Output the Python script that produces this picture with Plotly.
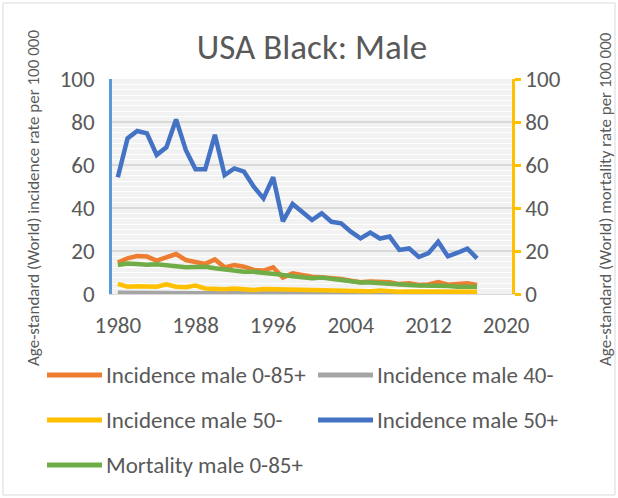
import plotly.graph_objects as go

years = list(range(1980, 2018))

inc_0_85 = [14.6, 16.6, 17.7, 17.4, 15.5, 17.1, 18.6, 15.8, 14.7, 14.0,
            16.1, 12.4, 13.5, 12.7, 11.2, 10.9, 12.4, 7.6, 9.6, 8.8,
            8.0, 7.8, 7.5, 7.0, 6.2, 5.5, 5.8, 5.5, 5.5, 4.6,
            5.0, 4.2, 4.4, 5.6, 4.3, 4.6, 5.0, 4.2]
inc_40 = [0.6, 0.5, 0.5, 0.5, 0.5, 0.5, 0.5, 0.4, 0.4, 0.5,
          0.4, 0.4, 0.4, 0.4, 0.4, 0.3, 0.4, 0.3, 0.3, 0.3,
          0.3, 0.3, 0.3, 0.3, 0.3, 0.2, 0.3, 0.2, 0.2, 0.2,
          0.2, 0.2, 0.2, 0.2, 0.2, 0.2, 0.2, 0.2]
inc_50_minus = [4.7, 3.4, 3.6, 3.6, 3.4, 4.5, 3.4, 3.1, 3.9, 2.6,
                2.3, 2.2, 2.6, 2.2, 1.9, 2.3, 2.2, 1.9, 1.6, 1.6,
                1.5, 1.4, 1.5, 1.3, 1.3, 1.2, 1.3, 1.6, 1.2, 1.1,
                1.2, 1.1, 1.1, 1.2, 1.0, 1.1, 1.0, 1.0]
inc_50_plus = [54.3, 72.4, 75.8, 74.7, 64.7, 68.2, 81.2, 67.0, 58.0, 58.0,
               74.0, 55.3, 58.4, 56.9, 49.9, 44.5, 54.3, 33.8, 41.9, 38.3,
               34.4, 37.5, 33.6, 32.9, 29.0, 25.9, 28.6, 25.8, 26.7, 20.5,
               21.2, 17.2, 19.0, 24.3, 17.5, 19.2, 21.1, 16.6]
mort_0_85 = [13.5, 14.2, 14.0, 13.6, 13.8, 13.3, 13.3, 12.5, 12.6, 12.7,
             12.0, 11.4, 11.1, 10.4, 10.3, 10.0, 9.5, 8.9, 8.3, 7.8,
             7.3, 7.7, 7.0, 6.5, 5.7, 5.4, 5.3, 4.9, 4.6, 4.2,
             4.2, 3.9, 4.0, 3.9, 3.7, 3.4, 3.4, 3.4]

names = ["Incidence male 0-85+", "Incidence male 40-", "Incidence male 50-",
         "Incidence male 50+", "Mortality male 0-85+"]
colors = ["#ED7D31", "#A5A5A5", "#FFC000", "#4472C4", "#70AD47"]
x_ticks = [1980, 1988, 1996, 2004, 2012, 2020]
y_ticks = [0, 20, 40, 60, 80, 100]

FONT = "Calibri, Carlito, Lato, sans-serif"
GREY_TXT = "#595959"

# plot area in pixels
L, R, T, B = 112, 512, 79, 294


def px(x):
    return (x - L) / (R - L)


def py(y):
    return (B - y) / (B - T)


fig = go.Figure()
series = [inc_0_85, inc_40, inc_50_minus, inc_50_plus]
for vals, name, col in zip(series, names[:4], colors[:4]):
    fig.add_trace(go.Scatter(x=years, y=vals, name=name, mode="lines",
                             line=dict(color=col, width=4.5), showlegend=False))
fig.add_trace(go.Scatter(x=years, y=mort_0_85, name=names[4], mode="lines",
                         line=dict(color=colors[4], width=4.5), yaxis="y2",
                         showlegend=False))

# legend drawn by hand (longer line symbols like the original)
rows = [375, 375, 420, 420, 465]
cols = [47, 318, 47, 318, 47]
shapes = []
annotations = []
for name, col, ry, cx in zip(names, colors, rows, cols):
    shapes.append(dict(type="line", xref="paper", yref="paper",
                       x0=px(cx), x1=px(cx + 55), y0=py(ry), y1=py(ry),
                       line=dict(color=col, width=5)))
    annotations.append(dict(text=name, xref="paper", yref="paper",
                            x=px(cx + 57), y=py(ry), xanchor="left",
                            yanchor="middle", showarrow=False,
                            font=dict(size=23, color=GREY_TXT, family=FONT)))

annotations.append(dict(text="Age-standard (World) incidence rate per 100 000",
                        xref="paper", yref="paper", x=px(33), y=py(198),
                        textangle=-90, showarrow=False,
                        xanchor="center", yanchor="middle",
                        font=dict(size=17, color=GREY_TXT, family=FONT)))
annotations.append(dict(text="Age-standard (World) mortality rate per 100 000",
                        xref="paper", yref="paper", x=px(605), y=py(199),
                        textangle=-90, showarrow=False,
                        xanchor="center", yanchor="middle",
                        font=dict(size=17, color=GREY_TXT, family=FONT)))

# chart border
shapes.append(dict(type="rect", xref="paper", yref="paper",
                   x0=px(3), x1=px(615), y0=py(3), y1=py(495),
                   line=dict(color="#D9D9D9", width=1), layer="below"))

fig.update_layout(
    width=618, height=498,
    margin=dict(l=L, r=618 - R, t=T, b=498 - B),
    paper_bgcolor="white",
    plot_bgcolor="#F2F2F2",
    title=dict(text="USA Black: Male", x=0.5, xref="paper", xanchor="center",
               y=1 - 47 / 498, yanchor="middle",
               font=dict(size=35, color=GREY_TXT, family=FONT)),
    xaxis=dict(range=[1979.4, 2020.6], tickvals=x_ticks,
               showgrid=False, zeroline=False,
               showline=True, linecolor="#D9D9D9", linewidth=1,
               ticks="", ticklabelstandoff=10,
               tickfont=dict(size=23, color=GREY_TXT, family=FONT)),
    yaxis=dict(range=[0, 100], tickvals=y_ticks,
               showgrid=True, gridcolor="#D9D9D9", gridwidth=1.5,
               minor=dict(dtick=2.5, showgrid=True, gridcolor="#FFFFFF",
                          gridwidth=1),
               zeroline=False, showline=True, linecolor="#5B9BD5",
               linewidth=2.5, ticks="", ticklabelstandoff=10,
               tickfont=dict(size=23, color=GREY_TXT, family=FONT)),
    yaxis2=dict(range=[0, 100], tickvals=y_ticks, overlaying="y",
                side="right", showgrid=False, zeroline=False,
                showline=True, linecolor="#FFC000", linewidth=2.5,
                ticks="outside", ticklen=6, tickwidth=2.5,
                tickcolor="#FFC000",
                tickfont=dict(size=23, color=GREY_TXT, family=FONT)),
    shapes=shapes,
    annotations=annotations,
)

fig.write_html("out.html", config={"displayModeBar": False},
               post_script="document.body.style.margin='0px';")
